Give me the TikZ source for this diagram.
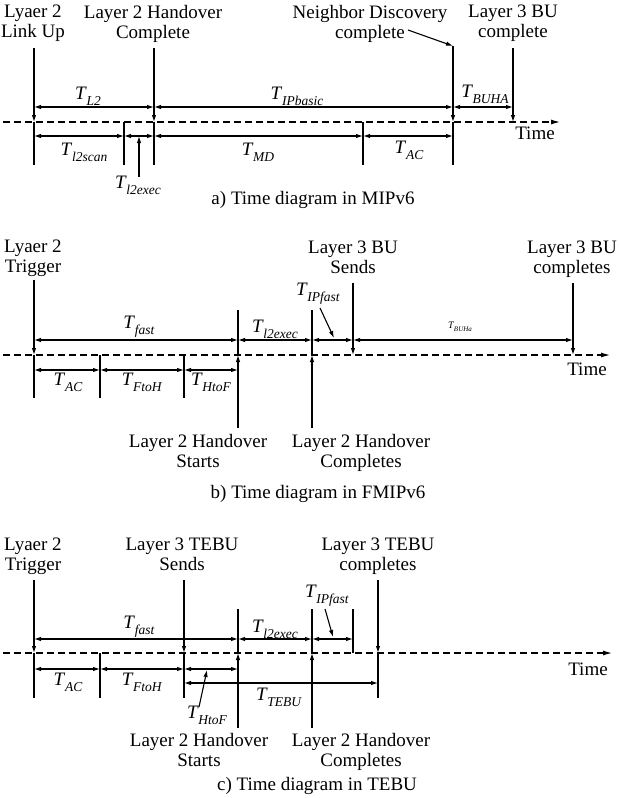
\documentclass[tikz,border=0pt]{standalone}
\usepackage{fontspec}
\setmainfont{Liberation Serif}
\usetikzlibrary{arrows.meta}
\newcommand{\Tl}[2][13.5]{\textit{T}\kern-0.3pt\raisebox{-0.3em}{\fontsize{#1}{#1}\selectfont\textit{#2}}}
\begin{document}
\begin{tikzpicture}[x=1pt,y=-1pt,
  every node/.style={font=\fontsize{19}{20}\selectfont, inner sep=0pt},
  lbl/.style={align=center, anchor=north},
  ln/.style={line width=1.1pt},
  tip/.style={ln,-{Latex[length=7pt,width=4.5pt]}},
  dimarr/.style={ln,{Latex[length=7pt,width=4.5pt]}-{Latex[length=7pt,width=4.5pt]}},
  tline/.style={line width=1.1pt, dash pattern=on 7pt off 4pt, -{Latex[length=9pt,width=5pt]}},
]
\useasboundingbox (0,0) rectangle (620,798);

%% ---------------- a) MIPv6 ----------------
\coordinate (aX0) at (3,0);   \coordinate (aXE) at (560,0);
\coordinate (aX1) at (34,0);  \coordinate (aX2) at (154,0);
\coordinate (aX3) at (124,0); \coordinate (aX4) at (363,0);
\coordinate (aX5) at (453,0); \coordinate (aX6) at (513,0);
\coordinate (aXp) at (139,0);
\coordinate (aTop) at (0,48); \coordinate (aR1) at (0,107);
\coordinate (aD) at (0,122);  \coordinate (aR2) at (0,136);
\coordinate (aBot) at (0,165); \coordinate (aPb) at (0,177);

\node[lbl] (a-l2up) at (33,5) {Lyaer 2\\Link Up};
\node[lbl] (a-l2hc) at (153,5) {Layer 2 Handover\\Complete};
\node[lbl] (a-nd) at (370,5) {Neighbor Discovery\\complete};
\node[lbl] (a-bu) at (513,5) {Layer 3 BU\\complete};
\node[anchor=north] (a-time) at (535,127) {Time};
\node[anchor=north] (a-cap) at (313,191) {a) Time diagram in MIPv6};

\draw[tline] (aX0 |- aD) -- (aXE |- aD);
\draw[tip] (aX1 |- aTop) -- (aX1 |- aD); \draw[ln] (aX1 |- aD) -- (aX1 |- aBot);
\draw[tip] (aX2 |- aTop) -- (aX2 |- aD); \draw[ln] (aX2 |- aD) -- (aX2 |- aBot);
\draw[ln] (aX3 |- aD) -- (aX3 |- aBot);
\draw[ln] (aX4 |- aD) -- (aX4 |- aBot);
\coordinate (a5t) at (453,46);
\draw[tip] (a5t) -- (aX5 |- aD); \draw[ln] (aX5 |- aD) -- (aX5 |- aBot);
\draw[tip] (aX6 |- aTop) -- (aX6 |- aD);
\coordinate (a-ndend) at (408,30);
\draw[ln,-{Latex[length=7pt,width=4.5pt]}] (a-ndend) -- (a5t);

\draw[dimarr] (aX1 |- aR1) -- (aX2 |- aR1);
\draw[dimarr] (aX2 |- aR1) -- (aX5 |- aR1);
\draw[dimarr] (aX5 |- aR1) -- (aX6 |- aR1);
\draw[dimarr] (aX1 |- aR2) -- (aX3 |- aR2);
\draw[dimarr] (aX3 |- aR2) -- (aX2 |- aR2);
\draw[dimarr] (aX2 |- aR2) -- (aX4 |- aR2);
\draw[dimarr] (aX4 |- aR2) -- (aX5 |- aR2);
\draw[tip] (aXp |- aPb) -- (aXp |- aR2);

\node (a-tl2) at (88,96) {\Tl{L2}};
\node (a-tip) at (297,96) {\Tl{IPbasic}};
\node (a-tbu) at (485,94) {\Tl{BUHA}};
\node (a-tsc) at (84,152) {\Tl{l2scan}};
\node (a-tmd) at (258,152) {\Tl{MD}};
\node (a-tac) at (409,150) {\Tl{AC}};
\node (a-tex) at (138,185) {\Tl{l2exec}};

%% ---------------- b) FMIPv6 ----------------
\coordinate (bX0) at (3,0);   \coordinate (bXE) at (610,0);
\coordinate (bX1) at (34,0);  \coordinate (bX2) at (100,0);
\coordinate (bX3) at (184,0); \coordinate (bX4) at (238,0);
\coordinate (bX5) at (312,0); \coordinate (bX6) at (353,0);
\coordinate (bX7) at (573,0);
\coordinate (bTop0) at (0,280); \coordinate (bTop) at (0,283);
\coordinate (bTop2) at (0,310);
\coordinate (bR1) at (0,340); \coordinate (bD) at (0,355);
\coordinate (bR2) at (0,370); \coordinate (bBot) at (0,398);
\coordinate (bLow) at (0,428);

\node[lbl] (b-trig) at (33,240) {Lyaer 2\\Trigger};
\node[lbl] (b-bus) at (353,241) {Layer 3 BU\\Sends};
\node[lbl] (b-buc) at (572,241) {Layer 3 BU\\completes};
\node[lbl] (b-hs) at (198,434) {Layer 2 Handover\\Starts};
\node[lbl] (b-hc) at (361,434) {Layer 2 Handover\\Completes};
\node[anchor=north] (b-time) at (587,363) {Time};
\node[anchor=north] (b-cap) at (318,485) {b) Time diagram in FMIPv6};

\draw[tline] (bX0 |- bD) -- (bXE |- bD);
\draw[tip] (bX1 |- bTop0) -- (bX1 |- bD); \draw[ln] (bX1 |- bD) -- (bX1 |- bBot);
\draw[ln] (bX2 |- bD) -- (bX2 |- bBot);
\draw[ln] (bX3 |- bD) -- (bX3 |- bBot);
\draw[tip] (bX4 |- bLow) -- (bX4 |- bD); \draw[ln] (bX4 |- bD) -- (bX4 |- bTop2);
\draw[tip] (bX5 |- bLow) -- (bX5 |- bD); \draw[ln] (bX5 |- bD) -- (bX5 |- bTop2);
\draw[tip] (bX6 |- bTop) -- (bX6 |- bD);
\draw[tip] (bX7 |- bTop) -- (bX7 |- bD);

\draw[dimarr] (bX1 |- bR1) -- (bX4 |- bR1);
\draw[dimarr] (bX4 |- bR1) -- (bX5 |- bR1);
\draw[dimarr] (bX5 |- bR1) -- (bX6 |- bR1);
\draw[dimarr] (bX6 |- bR1) -- (bX7 |- bR1);
\draw[dimarr] (bX1 |- bR2) -- (bX2 |- bR2);
\draw[dimarr] (bX2 |- bR2) -- (bX3 |- bR2);
\draw[dimarr] (bX3 |- bR2) -- (bX4 |- bR2);
\coordinate (b-pa) at (320,308); \coordinate (b-pb) at (334,338);
\draw[tip] (b-pa) -- (b-pb);

\node (b-tf) at (139,327) {\Tl{fast}};
\node (b-tex) at (275,329) {\Tl{l2exec}};
\node (b-tip) at (318,294) {\Tl{IPfast}};
\node (b-tbu) at (460,327) {\fontsize{10}{10}\selectfont\Tl[7]{BUHa}};
\node (b-tac) at (68,382) {\Tl{AC}};
\node (b-tfh) at (142,382) {\Tl{FtoH}};
\node (b-thf) at (211,382) {\Tl{HtoF}};

%% ---------------- c) TEBU ----------------
\coordinate (cX0) at (3,0);   \coordinate (cXE) at (612,0);
\coordinate (cX1) at (34,0);  \coordinate (cX2) at (100,0);
\coordinate (cX3) at (184,0); \coordinate (cX4) at (238,0);
\coordinate (cX5) at (312,0); \coordinate (cX6) at (353,0);
\coordinate (cX7) at (378,0);
\coordinate (cTop) at (0,580); \coordinate (cTop2) at (0,609);
\coordinate (cR1) at (0,639); \coordinate (cD) at (0,653);
\coordinate (cR2) at (0,669); \coordinate (cR3) at (0,683);
\coordinate (cBot) at (0,698); \coordinate (cLow) at (0,728);

\node[lbl] (c-trig) at (33,538) {Lyaer 2\\Trigger};
\node[lbl] (c-tbs) at (182,538) {Layer 3 TEBU\\Sends};
\node[lbl] (c-tbc) at (378,538) {Layer 3 TEBU\\completes};
\node[lbl] (c-hs) at (199,733) {Layer 2 Handover\\Starts};
\node[lbl] (c-hc) at (361,733) {Layer 2 Handover\\Completes};
\node[anchor=north] (c-time) at (588,663) {Time};
\node[anchor=north] (c-cap) at (317,777) {c) Time diagram in TEBU};

\draw[tline] (cX0 |- cD) -- (cXE |- cD);
\draw[tip] (cX1 |- cTop) -- (cX1 |- cD); \draw[ln] (cX1 |- cD) -- (cX1 |- cBot);
\draw[ln] (cX2 |- cD) -- (cX2 |- cBot);
\draw[tip] (cX3 |- cTop) -- (cX3 |- cD); \draw[ln] (cX3 |- cD) -- (cX3 |- cBot);
\draw[tip] (cX4 |- cLow) -- (cX4 |- cD); \draw[ln] (cX4 |- cD) -- (cX4 |- cTop2);
\draw[tip] (cX5 |- cLow) -- (cX5 |- cD); \draw[ln] (cX5 |- cD) -- (cX5 |- cTop2);
\draw[ln] (cX6 |- cTop2) -- (cX6 |- cD);
\draw[tip] (cX7 |- cTop) -- (cX7 |- cD); \draw[ln] (cX7 |- cD) -- (cX7 |- cBot);

\draw[dimarr] (cX1 |- cR1) -- (cX4 |- cR1);
\draw[dimarr] (cX4 |- cR1) -- (cX5 |- cR1);
\draw[dimarr] (cX5 |- cR1) -- (cX6 |- cR1);
\draw[dimarr] (cX1 |- cR2) -- (cX2 |- cR2);
\draw[dimarr] (cX2 |- cR2) -- (cX3 |- cR2);
\draw[dimarr] (cX3 |- cR2) -- (cX4 |- cR2);
\draw[dimarr] (cX3 |- cR3) -- (cX7 |- cR3);
\coordinate (c-pa) at (325,609); \coordinate (c-pb) at (333,637);
\draw[tip] (c-pa) -- (c-pb);
\coordinate (c-qa) at (199,707); \coordinate (c-qb) at (207,670);
\draw[tip] (c-qa) -- (c-qb);

\node (c-tf) at (139,627) {\Tl{fast}};
\node (c-tex) at (275,629) {\Tl{l2exec}};
\node (c-tip) at (327,596) {\Tl{IPfast}};
\node (c-tac) at (68,682) {\Tl{AC}};
\node (c-tfh) at (142,682) {\Tl{FtoH}};
\node (c-tte) at (279,697) {\Tl{TEBU}};
\node (c-thf) at (207,715) {\Tl{HtoF}};
\end{tikzpicture}
\end{document}
